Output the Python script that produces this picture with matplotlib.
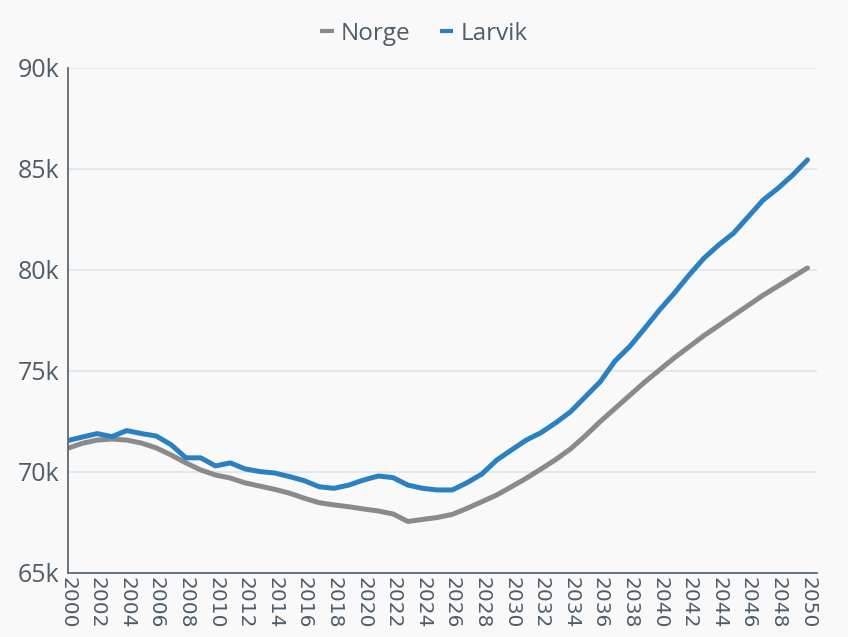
import matplotlib
matplotlib.use('Agg')
import matplotlib.pyplot as plt
from matplotlib.lines import Line2D
import numpy as np

years = list(range(2000, 2051))

larvik = [71550, 71730, 71900, 71750, 72050, 71900, 71780, 71350, 70700, 70700,
          70300, 70450, 70150, 70020, 69950, 69770, 69570, 69270, 69190, 69350,
          69600, 69800, 69720, 69350, 69190, 69110, 69110, 69470, 69900, 70590,
          71090, 71580, 71950, 72440, 72990, 73730, 74470, 75500, 76220, 77110,
          78020, 78850, 79750, 80580, 81240, 81820, 82640, 83460, 84040, 84700,
          85450]

norge = [71170, 71420, 71580, 71630, 71580, 71430, 71190, 70840, 70450, 70100,
         69850, 69700, 69460, 69300, 69140, 68950, 68700, 68480, 68370, 68280,
         68170, 68070, 67920, 67550, 67650, 67750, 67900, 68200, 68530, 68860,
         69270, 69690, 70150, 70620, 71150, 71800, 72500, 73150, 73800, 74450,
         75050, 75650, 76200, 76750, 77250, 77750, 78250, 78750, 79200, 79650,
         80100]

y_ticks = [65000, 70000, 75000, 80000, 85000, 90000]
y_labels = ['65k', '70k', '75k', '80k', '85k', '90k']
x_ticks = list(range(2000, 2051, 2))

bg = '#f9f9f9'
txt = '#4f5d68'
c_norge = '#8a8a8a'
c_larvik = '#2a80c1'

plt.rcParams['font.family'] = ['Open Sans', 'DejaVu Sans']

fig = plt.figure(figsize=(8.48, 6.37), dpi=100, facecolor=bg)
ax = fig.add_axes([0.0796, 0.1005, 0.884, 0.7928])
ax.set_facecolor(bg)

ax.plot(years, norge, color=c_norge, linewidth=3.6,
        solid_capstyle='round', solid_joinstyle='round')
ax.plot(years, larvik, color=c_larvik, linewidth=3.6,
        solid_capstyle='round', solid_joinstyle='round')

ax.set_xlim(2000, 2050.65)
ax.set_ylim(65000, 90000)
ax.set_yticks(y_ticks)
ax.set_yticklabels(y_labels, fontsize=18, color=txt)
ax.set_xticks(x_ticks)
ax.set_xticklabels([str(x) for x in x_ticks], rotation=270, fontsize=14.5,
                   color=txt, family='DejaVu Sans')
ax.tick_params(axis='both', length=0)
ax.tick_params(axis='y', pad=6)
ax.tick_params(axis='x', pad=3)

ax.grid(axis='y', color='#dfe3e7', linewidth=1.2)
ax.set_axisbelow(True)
for s in ['top', 'right']:
    ax.spines[s].set_visible(False)
for s in ['left', 'bottom']:
    ax.spines[s].set_color('#5c6b76')
    ax.spines[s].set_linewidth(1.3)

handles = [Line2D([], [], color=c_norge, linewidth=3, solid_capstyle='butt'),
           Line2D([], [], color=c_larvik, linewidth=3, solid_capstyle='butt')]
fig.legend(handles, ['Norge', 'Larvik'], loc='upper center',
           bbox_to_anchor=(0.5, 1.0), ncol=2, frameon=False, fontsize=17.5,
           handlelength=0.55, handletextpad=0.3, columnspacing=1.2,
           labelcolor=txt)

fig.savefig('out.png', dpi=100, facecolor=bg)
